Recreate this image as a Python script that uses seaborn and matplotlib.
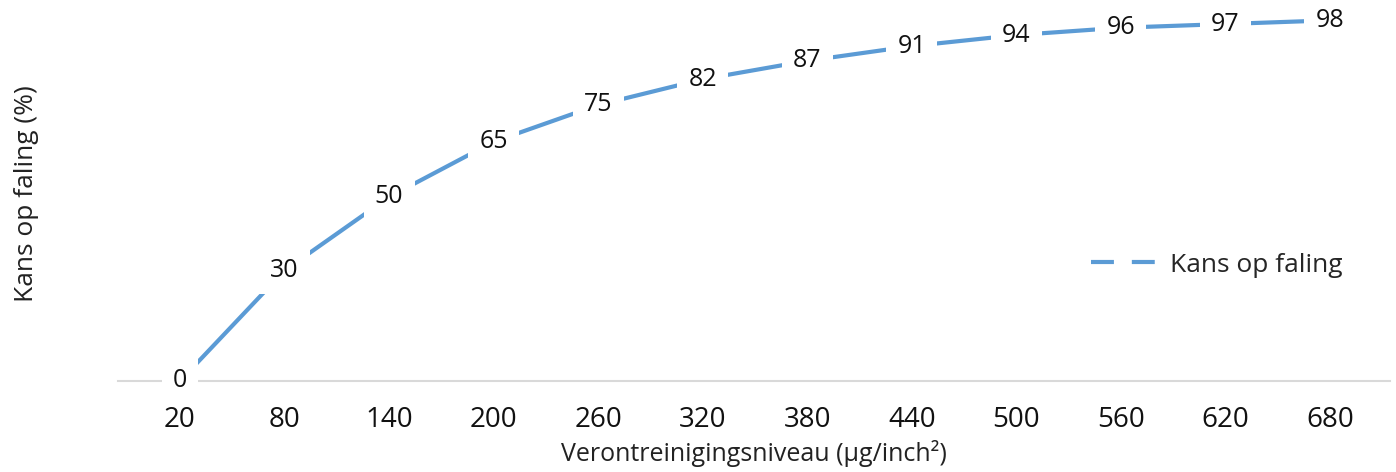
import pandas as pd
import seaborn as sns
import matplotlib.pyplot as plt
from matplotlib.lines import Line2D

# chart data
levels = ["20", "80", "140", "200", "260", "320", "380", "440", "500", "560", "620", "680"]
fail_chance = [0, 30, 50, 65, 75, 82, 87, 91, 94, 96, 97, 98]
series_name = "Kans op faling"

LINE_COLOR = "#5b9bd5"

sns.set_theme(style="white")
plt.rcParams['font.family'] = ['Open Sans', 'DejaVu Sans']

df = pd.DataFrame({"level": levels, "value": fail_chance})

fig = plt.figure(figsize=(13.96, 4.72), dpi=100)
ax = fig.add_axes([0.0845, 0.1928, 0.9112, 0.7797])

sns.lineplot(data=df, x="level", y="value", sort=False, ax=ax,
             color=LINE_COLOR, linewidth=3, legend=False)

# data labels with white boxes covering the line
for i, v in enumerate(fail_chance):
    ax.text(i, v, str(v), ha="center", va="center", fontsize=18, color="#111111",
            bbox=dict(boxstyle="square,pad=0.45", fc="white", ec="none"), zorder=5)

ax.set_xlim(-0.593, len(levels) - 1 + 0.574)
ax.set_ylim(0, 100)
ax.set_yticks([])
ax.tick_params(axis="x", labelsize=20, colors="#111111", length=0, pad=18)

for side in ["top", "right", "left"]:
    ax.spines[side].set_visible(False)
ax.spines["bottom"].set_color("#d9d9d9")
ax.spines["bottom"].set_linewidth(1.5)

ax.set_xlabel("Verontreinigingsniveau (µg/inch²)", fontsize=18, color="#222222", labelpad=4)
ax.set_ylabel("Kans op faling (%)", fontsize=19, color="#222222")
ax.yaxis.set_label_coords(-0.062, 0.51)

handle = Line2D([], [], color=LINE_COLOR, linewidth=3, linestyle=(0, (5.5, 4.3)))
ax.legend([handle], [series_name], loc="center left", bbox_to_anchor=(0.746, 0.315),
          frameon=False, fontsize=19, handlelength=2.5, handletextpad=0.5)

fig.savefig("out.png", dpi=100)
plt.close(fig)
